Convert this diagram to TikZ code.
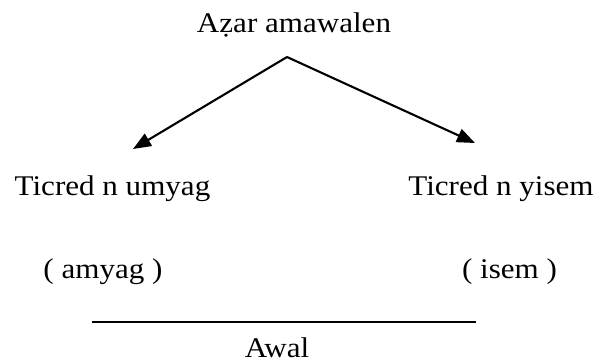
\documentclass[tikz,border=0pt]{standalone}
\usepackage{fontspec}
\setmainfont[FakeStretch=1.09]{Liberation Serif}
\usetikzlibrary{arrows.meta}
\begin{document}
\begin{tikzpicture}[x=1pt,y=-1pt,
  lbl/.style={anchor=base,inner sep=0pt,font=\fontsize{28.5}{34}\selectfont},
  conn/.style={line width=2.1pt,-{Triangle[length=18pt,width=14pt]}}]
\useasboundingbox (0,0) rectangle (596,363);
\node[lbl] (root) at (294,33) {Aẓar amawalen};
\node[lbl] (left) at (112.5,196) {Ticred n umyag};
\node[lbl] (right) at (501,196) {Ticred n yisem};
\node[lbl] (lsub) at (103,278) {( amyag )};
\node[lbl] (rsub) at (509.5,278) {( isem )};
\node[lbl] (awal) at (277,357) {Awal};
\coordinate (apex) at (287,57);
\coordinate (ltip) at (133,149);
\coordinate (rtip) at (475,143);
\coordinate (hl) at (92,322);
\coordinate (hr) at (476,322);
\draw[conn] (apex) -- (ltip);
\draw[conn] (apex) -- (rtip);
\draw[line width=2.1pt] (hl) -- (hr);
\end{tikzpicture}
\end{document}
